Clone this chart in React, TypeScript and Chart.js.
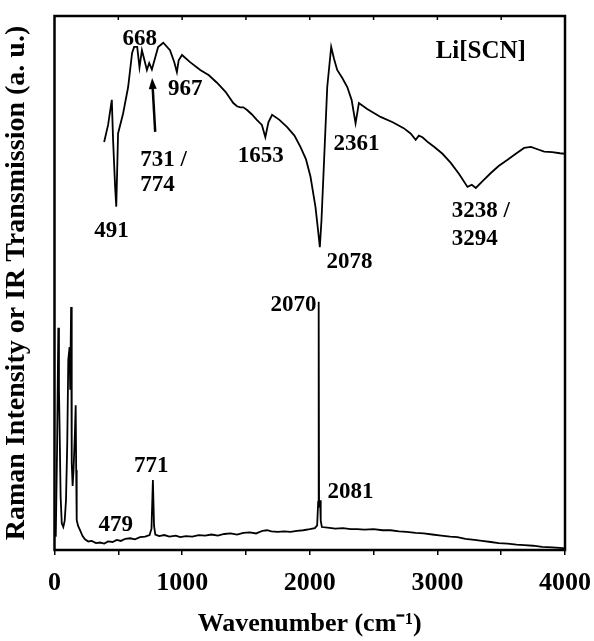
import React, { useEffect, useRef } from "react";
import { Chart, registerables } from "chart.js";

Chart.register(...registerables);

// ---------- data ----------
const irWavenumber = [
  389, 420, 449, 459, 475, 484, 492, 498, 538, 577, 608, 624, 648, 666, 685, 724, 742, 763,
  812, 852, 905, 938, 959, 973, 999, 1060, 1142, 1210, 1273, 1340, 1401, 1430, 1456, 1480,
  1509, 1545, 1587, 1625, 1652, 1676, 1705, 1760, 1823, 1880, 1927, 1970, 2006, 2045, 2069,
  2079, 2092, 2110, 2137, 2168, 2190, 2215, 2255, 2294, 2328, 2359, 2385, 2450, 2555, 2650,
  2736, 2790, 2830, 2855, 2883, 2930, 2974, 3040, 3105, 3170, 3236, 3270, 3301, 3360, 3419,
  3480, 3550, 3620, 3680, 3733, 3790, 3837, 3900, 3960, 4000,
];
const irTransmission = [
  76.4, 79.6, 84.3, 76.8, 68.0, 64.3, 72.0, 78.0, 81.8, 86.7, 93.1, 94.2, 94.2, 90.4, 93.6,
  89.9, 91.2, 90.0, 94.2, 95.0, 93.6, 91.4, 89.5, 91.7, 92.7, 91.4, 89.9, 88.9, 87.5, 85.8,
  83.7, 83.1, 82.9, 82.9, 82.4, 81.6, 80.5, 79.6, 77.3, 80.1, 81.5, 80.6, 79.2, 77.6, 75.5,
  73.2, 69.9, 64.2, 59.0, 56.7, 61.8, 71.7, 86.7, 94.2, 92.0, 89.9, 88.4, 86.7, 84.3, 79.9,
  83.7, 82.6, 81.1, 80.1, 79.0, 78.0, 76.8, 77.6, 77.3, 76.3, 75.5, 74.2, 72.5, 70.4, 68.0,
  68.4, 67.8, 69.2, 70.6, 71.9, 73.1, 74.3, 75.3, 75.5, 75.0, 74.6, 74.5, 74.3, 74.2,
];

const ramanWavenumber = [
  10, 20, 30, 35, 39, 48, 57, 69, 80, 90, 100, 108, 118, 123, 130, 135, 142, 149, 160, 166,
  170, 174, 185, 200, 220, 239, 265, 292, 325, 357, 390, 420, 455, 488, 520, 555, 593, 630,
  670, 710, 745, 760, 771, 780, 790, 820, 860, 900, 950, 985, 1030, 1080, 1130, 1180, 1230,
  1280, 1330, 1380, 1430, 1480, 1530, 1580, 1630, 1666, 1700, 1750, 1800, 1849, 1900, 1950,
  2000, 2040, 2058, 2066, 2070, 2073, 2078, 2081, 2086, 2095, 2140, 2200, 2260, 2320, 2372,
  2430, 2500, 2570, 2634, 2700, 2760, 2830, 2893, 2960, 3030, 3100, 3157, 3220, 3290, 3350,
  3419, 3480, 3550, 3620, 3680, 3750, 3820, 3900, 3960, 4000,
];
const ramanIntensity = [
  2.5, 18.7, 41.6, 30.0, 24.3, 10.0, 5.0, 4.3, 5.5, 9.3, 20.0, 35.6, 38.0, 30.0, 45.5, 16.3,
  12.0, 14.9, 22.0, 27.1, 15.0, 5.6, 4.5, 3.7, 2.6, 2.0, 1.6, 1.7, 1.3, 1.4, 1.2, 1.6, 1.5,
  1.9, 1.7, 2.1, 2.2, 2.0, 2.4, 2.5, 2.8, 4.0, 13.1, 4.5, 2.9, 2.6, 2.8, 2.5, 2.7, 2.4, 2.6,
  2.5, 2.8, 2.7, 2.9, 2.7, 3.0, 3.1, 2.9, 3.2, 3.3, 3.1, 3.6, 3.7, 3.5, 3.4, 3.5, 3.4, 3.6,
  3.7, 3.9, 4.1, 4.6, 9.0, 46.5, 9.0, 8.0, 9.3, 5.5, 4.3, 4.2, 4.0, 4.1, 3.9, 3.9, 3.8,
  3.9, 3.7, 3.7, 3.5, 3.4, 3.2, 3.1, 2.9, 2.7, 2.5, 2.4, 2.1, 1.9, 1.7, 1.5, 1.3, 1.2, 1.0,
  0.9, 0.8, 0.6, 0.5, 0.4, 0.3,
];

const xMin = 0;
const xMax = 4000;
const xTickStep = 500;
const xLabelEvery = 1000;

const xTitle = "Wavenumber (cm\u207B\u00B9)";
const yTitle = "Raman Intensity or IR Transmission (a. u.)";

// peak labels: text, anchor wavenumber, anchor value
const peakLabelText = ["668", "967", "731 /", "774", "491", "1653", "2078", "2361", "3238 /", "3294", "2070", "2081", "771", "479"];
const peakLabelWn = [667, 1024, 671, 671, 447, 1617, 2312, 2367, 3112, 3112, 1872, 2320, 758, 479];
const peakLabelVal = [95.6, 86.3, 73.0, 68.4, 59.8, 73.7, 54.0, 76.0, 63.4, 58.3, 45.8, 10.9, 15.8, 4.6];
const peakLabelAlign = ["center", "center", "left", "left", "center", "center", "center", "center", "left", "left", "center", "center", "center", "center"];

const sampleName = "Li[SCN]";
const sampleWn = 3340;
const sampleVal = 93.3;

// arrow pointing to 731/774 dips: from (wn, val) to (wn, val)
const arrowFromWn = 789;
const arrowFromVal = 78.3;
const arrowToWn = 765;
const arrowToVal = 88.4;

const SERIF = '"Liberation Serif", "Times New Roman", serif';

const framePlugin = {
  id: "frameAndLabels",
  afterDraw(chart: any) {
    const { ctx, chartArea: a, scales } = chart;
    const xs = scales.x;
    const ys = scales.y;
    ctx.save();
    ctx.strokeStyle = "#000";
    ctx.fillStyle = "#000";
    // frame
    ctx.lineWidth = 2.5;
    ctx.strokeRect(a.left, a.top, a.right - a.left, a.bottom - a.top);
    // inward top ticks
    ctx.lineWidth = 1.5;
    for (let v = xMin + xTickStep; v < xMax; v += xTickStep) {
      const px = xs.getPixelForValue(v);
      ctx.beginPath();
      ctx.moveTo(px, a.top);
      ctx.lineTo(px, a.top + 4);
      ctx.stroke();
    }
    // peak labels
    ctx.font = `bold 23px ${SERIF}`;
    ctx.textBaseline = "middle";
    peakLabelText.forEach((t, i) => {
      ctx.textAlign = peakLabelAlign[i] as CanvasTextAlign;
      ctx.fillText(t, xs.getPixelForValue(peakLabelWn[i]), ys.getPixelForValue(peakLabelVal[i]));
    });
    // sample name
    ctx.font = `bold 25px ${SERIF}`;
    ctx.textAlign = "center";
    ctx.fillText(sampleName, xs.getPixelForValue(sampleWn), ys.getPixelForValue(sampleVal));
    // arrow
    const x1 = xs.getPixelForValue(arrowFromWn);
    const y1 = ys.getPixelForValue(arrowFromVal);
    const x2 = xs.getPixelForValue(arrowToWn);
    const y2 = ys.getPixelForValue(arrowToVal);
    const ang = Math.atan2(y2 - y1, x2 - x1);
    const headLen = 11;
    const headW = 4;
    const bx = x2 - headLen * Math.cos(ang);
    const by = y2 - headLen * Math.sin(ang);
    ctx.lineWidth = 2.5;
    ctx.beginPath();
    ctx.moveTo(x1, y1);
    ctx.lineTo(bx, by);
    ctx.stroke();
    ctx.beginPath();
    ctx.moveTo(x2, y2);
    ctx.lineTo(bx + headW * Math.sin(ang), by - headW * Math.cos(ang));
    ctx.lineTo(bx - headW * Math.sin(ang), by + headW * Math.cos(ang));
    ctx.closePath();
    ctx.fill();
    ctx.restore();
  },
};

export default function App() {
  const canvasRef = useRef<HTMLCanvasElement | null>(null);

  useEffect(() => {
    if (!canvasRef.current) return;
    const irData = irWavenumber.map((x, i) => ({ x, y: irTransmission[i] }));
    const ramanData = ramanWavenumber.map((x, i) => ({ x, y: ramanIntensity[i] }));
    const chart = new Chart(canvasRef.current, {
      type: "scatter",
      data: {
        datasets: [
          {
            label: "IR",
            data: irData,
            showLine: true,
            borderColor: "#000",
            borderWidth: 1.8,
            pointRadius: 0,
            tension: 0,
          },
          {
            label: "Raman",
            data: ramanData,
            showLine: true,
            borderColor: "#000",
            borderWidth: 1.8,
            pointRadius: 0,
            tension: 0,
          },
        ],
      },
      options: {
        responsive: false,
        animation: false,
        events: [],
        layout: { padding: { left: 0, top: 16, right: 29, bottom: 0 } },
        plugins: {
          legend: { display: false },
          tooltip: { enabled: false },
        },
        scales: {
          x: {
            type: "linear",
            min: xMin,
            max: xMax,
            border: { display: false },
            grid: {
              display: true,
              drawOnChartArea: false,
              drawTicks: true,
              tickLength: 5,
              color: "#000",
              lineWidth: 1.5,
            },
            ticks: {
              stepSize: xTickStep,
              autoSkip: false,
              maxRotation: 0,
              padding: 13,
              color: "#000",
              font: { family: SERIF, size: 26, weight: "bold" },
              callback: (v: any) => (Number(v) % xLabelEvery === 0 ? String(v) : ""),
            },
            title: {
              display: true,
              text: xTitle,
              color: "#000",
              font: { family: SERIF, size: 26, weight: "bold" },
              padding: { top: 0, bottom: 1 },
            },
            afterFit: (scale: any) => {
              scale.height = 91;
              scale.paddingLeft = 0;
              scale.paddingRight = 0;
            },
          },
          y: {
            type: "linear",
            min: 0,
            max: 100,
            border: { display: false },
            grid: { display: false },
            ticks: { display: false },
            title: {
              display: true,
              text: yTitle,
              color: "#000",
              font: { family: SERIF, size: 28, weight: "bold" },
              padding: { top: 0, bottom: 0 },
            },
            afterFit: (scale: any) => {
              scale.width = 54.5;
              scale.paddingTop = 0;
              scale.paddingBottom = 0;
            },
          },
        },
      },
      plugins: [framePlugin],
    } as any);
    return () => chart.destroy();
  }, []);

  return (
    <div style={{ position: "absolute", left: 0, top: 0, width: 594, height: 641, background: "#fff" }}>
      <canvas ref={canvasRef} width={594} height={641} />
    </div>
  );
}
